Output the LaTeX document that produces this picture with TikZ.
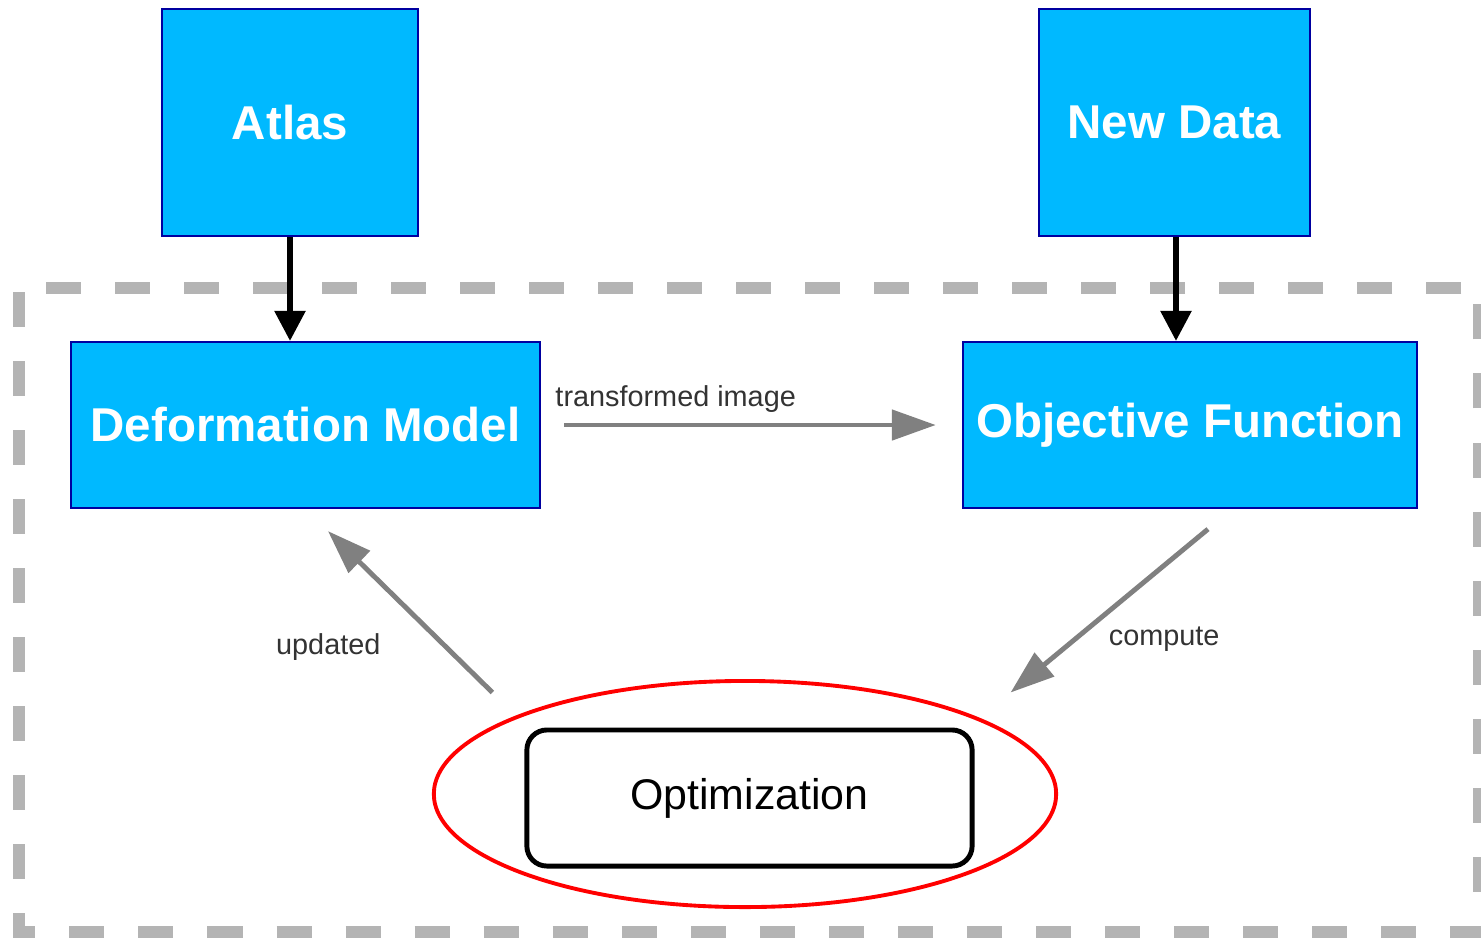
\documentclass[tikz,border=0pt]{standalone}
\usepackage{fontspec}
\setmainfont{Liberation Sans}
\usetikzlibrary{arrows.meta,shapes.geometric}
\definecolor{boxcyan}{RGB}{0,185,255}
\definecolor{boxedge}{RGB}{0,0,160}
\definecolor{flowgray}{RGB}{128,128,128}
\definecolor{framegray}{RGB}{180,180,180}
\begin{document}
\begin{tikzpicture}[x=0.01cm, y=-0.01cm,
    block/.style={rectangle, draw=boxedge, line width=0.6pt, fill=boxcyan,
      text=white, font=\fontsize{13.5}{16}\selectfont\bfseries},
    feed/.style={-{Triangle[length=0.3cm, width=0.3cm]}, line width=1.6pt, black},
    flow/.style={-{Triangle[length=0.44cm, width=0.3cm]}, line width=1.4pt, flowgray},
    tag/.style={text=black!80, font=\fontsize{8.2}{10}\selectfont},
  ]
    \useasboundingbox (0,0) rectangle (1481,938);

    % dashed frame
    \draw[framegray, line width=3.4pt, dash pattern=on 0.35cm off 0.34cm, dash phase=-0.04cm]
      (19,288) rectangle (1479,932);

    \node[block, minimum width=2.56cm, minimum height=2.27cm] (atlas)   at (290,122.5)  {Atlas};
    \node[block, minimum width=2.71cm, minimum height=2.27cm] (newdata) at (1174.5,122.5) {New Data};
    \node[block, minimum width=4.69cm, minimum height=1.66cm] (deform)  at (305.5,425)  {Deformation Model};
    \node[block, minimum width=4.54cm, minimum height=1.66cm] (objfun)  at (1190,425)   {Objective Function};
    \node[rectangle, rounded corners=0.2cm, draw, line width=1.4pt, minimum width=4.45cm,
      minimum height=1.36cm, font=\fontsize{12.2}{14}\selectfont] (optim) at (749.5,798) {Optimization};
    \node[ellipse, draw=red, line width=1.1pt, inner sep=0pt, minimum width=6.22cm,
      minimum height=2.26cm] (focus) at (745,794) {};

    \draw[feed] (atlas.south) -- (atlas.south |- deform.north);
    \draw[feed] ([xshift=0.015cm]newdata.south) -- ([xshift=0.015cm]newdata.south |- objfun.north);

    \draw[flow] ([xshift=0.23cm]deform.east) -- ([xshift=-0.26cm]objfun.west)
      node[tag, pos=0.3, above=-0.6pt] {transformed image};
    \draw[flow] ([shift={(-32,-35)}]optim.north west) -- ([shift={(22.5,22)}]deform.south)
      node[tag, pos=0.315, left=0.46cm, yshift=-0.05cm] {updated};
    \draw[flow] ([shift={(18,20)}]objfun.south) -- ([shift={(36,-35)}]optim.north east)
      node[tag, pos=0.64, right=0.13cm, yshift=-0.05cm] {compute};
  \end{tikzpicture}
\end{document}
